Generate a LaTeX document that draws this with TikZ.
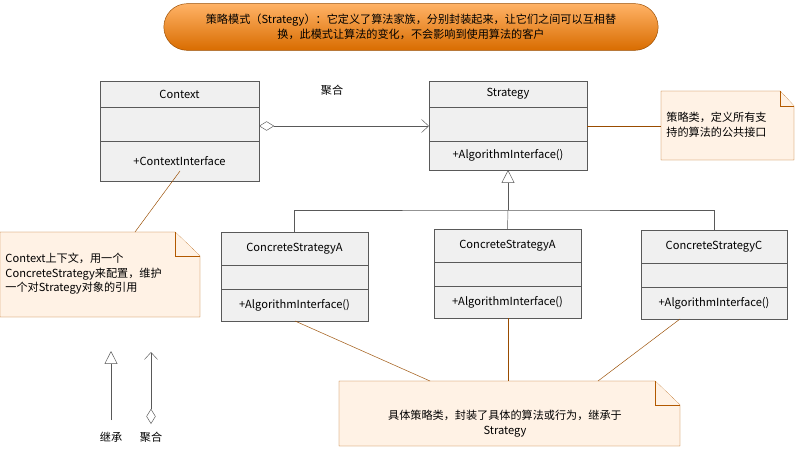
\documentclass[tikz,border=0pt]{standalone}
\usepackage{fontspec}
\setmainfont{Noto Sans CJK SC}
\usetikzlibrary{arrows.meta, shapes.misc}

\tikzset{
	cls/.style={draw=gray!70!black, fill=gray!12},
	note/.style={draw=orange!70!black, fill=orange!10},
	link/.style={draw=orange!60!black},
	txt/.style={font=\fontsize{9.5}{12.5}\selectfont, inner sep=1pt},
	inh/.style={draw=gray!70!black, -{Triangle[open,length=11pt,width=11pt]}},
	agg/.style={draw=gray!70!black, {Diamond[open,length=13pt,width=8pt]}-{Straight Barb[length=6pt,width=11pt]}},
}

% class box: name, left, top, right, bottom, divider1, divider2, title, operation
\newcommand{\umlbox}[9]{
	\draw[cls] (#2,#3) rectangle (#4,#5);
	\draw[gray!70!black] (#2,#6) -- (#4,#6) (#2,#7) -- (#4,#7);
	\node[txt] (#1) at ({(#2+#4)/2},{(#3+#6)/2}) {#8};
	\node[txt] (#1op) at ({(#2+#4)/2},{(#7+#5)/2}) {#9};
	\coordinate (#1top) at ({(#2+#4)/2},#3);
	\coordinate (#1bot) at ({(#2+#4)/2},#5);
}

\begin{document}
\begin{tikzpicture}[x=0.03cm, y=-0.03cm]
		\useasboundingbox (0,0) rectangle (795,451);

		% banner
		\node[rounded rectangle, draw=orange!60!black, top color=orange!60, bottom color=orange!85!black,
			minimum width=14.9cm, minimum height=1.4cm, txt, align=center] (title) at (411,27)
			{策略模式（Strategy）：它定义了算法家族，分别封装起来，让它们之间可以互相替\\换，此模式让算法的变化，不会影响到使用算法的客户};

		% classes
		\umlbox{ctx}{100}{81}{259}{181}{107}{141}{Context}{+ContextInterface}
		\umlbox{str}{429}{81}{587}{170}{107}{141}{Strategy}{+AlgorithmInterface()}
		\umlbox{csa}{221}{232}{368}{321}{265}{289}{ConcreteStrategyA}{+AlgorithmInterface()}
		\umlbox{csb}{434}{229}{581}{318}{262}{286}{ConcreteStrategyA}{+AlgorithmInterface()}
		\umlbox{csc}{641}{230}{787}{319}{263}{287}{ConcreteStrategyC}{+AlgorithmInterface()}

		% aggregation
		\coordinate (aggS) at (259,126);
		\coordinate (aggE) at (429,126);
		\draw[agg] (aggS) -- (aggE);
		\node[txt] (agglabel) at (332,90) {聚合};

		% inheritance
		\coordinate (fork) at (508,210);
		\draw[inh] (fork) -- (strbot);
		\draw[gray!70!black] (csatop) |- (fork) -| (csctop);
		\draw[gray!70!black] (fork) -- (csbtop);

		% notes
		\draw[note] (0,232) -- (175,232) -- (200,256) -- (200,317) -- (0,317) -- cycle;
		\draw[note] (175,232) -- (175,256) -- (200,256);
		\node[txt, align=left, anchor=west] (ctxnote) at (4,274)
			{Context上下文，用一个\\ConcreteStrategy来配置，维护\\一个对Strategy对象的引用};

		\draw[note] (661,91) -- (780,91) -- (794,106) -- (794,160) -- (661,160) -- cycle;
		\draw[note] (780,91) -- (780,106) -- (794,106);
		\node[txt, align=left, anchor=west] (strnote) at (665,125) {策略类，定义所有支\\持的算法的公共接口};

		\draw[note] (339,381) -- (655,381) -- (680,405) -- (680,446) -- (339,446) -- cycle;
		\draw[note] (655,381) -- (655,405) -- (680,405);
		\node[txt, align=center] (csnote) at (505,424) {具体策略类，封装了具体的算法或行为，继承于\\Strategy};

		% note links
		\draw[link] (180,171) -- (135,232);
		\draw[link] (587,126) -- (661,126);
		\draw[link] (295,321) -- (430,381);
		\draw[link] (508,318) -- (508,381);
		\draw[link] (680,319) -- (598,381);

		% legend
		\coordinate (inhA) at (111,420);
		\coordinate (inhB) at (111,351);
		\coordinate (aggA) at (151,424);
		\coordinate (aggB) at (151,352);
		\draw[inh] (inhA) -- (inhB);
		\draw[agg] (aggA) -- (aggB);
		\node[txt] (inhlabel) at (111,437) {继承};
		\node[txt] (agglegend) at (151,437) {聚合};
	\end{tikzpicture}
\end{document}
